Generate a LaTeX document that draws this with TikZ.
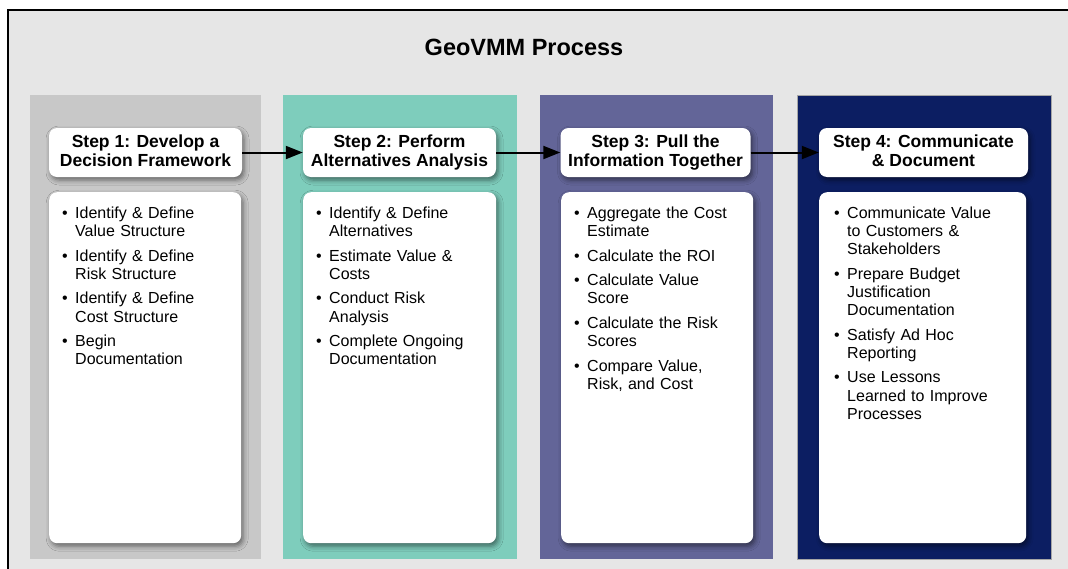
\documentclass[tikz,border=0pt]{standalone}
\usepackage{fontspec}
\setmainfont{Liberation Sans}
\usetikzlibrary{arrows.meta,shadows.blur}

\definecolor{canvas}{HTML}{E6E6E6}
\definecolor{stepone}{HTML}{C8C8C8}
\definecolor{steptwo}{HTML}{7ECDBC}
\definecolor{stepthree}{HTML}{636598}
\definecolor{stepfour}{HTML}{0C1E62}

% one bulleted entry with a hanging indent; \\ breaks a line inside the entry
\newcommand{\bitem}[1]{\par\noindent\hangindent=13pt\hangafter=1%
  \makebox[13pt][l]{\textbullet}{\let\\\newline #1}\par\vspace{6.3pt}}
% two-line step heading with a fixed line depth
\newcommand{\heading}[2]{#1\\#2\vphantom{gy}}

\tikzset{
  panel/.style={rectangle, anchor=north west, inner sep=0pt},
  headbox/.style={rectangle, rounded corners=8pt, fill=white, align=center,
    font=\fontsize{17.5}{18.5}\selectfont\bfseries, inner sep=0pt,
    blur shadow={shadow xshift=2pt, shadow yshift=-3pt, shadow blur radius=5pt, shadow opacity=50}},
  bodybox/.style={rectangle, rounded corners=8pt, fill=white, anchor=north west, inner sep=0pt,
    blur shadow={shadow xshift=2pt, shadow yshift=-3pt, shadow blur radius=5pt, shadow opacity=50}},
  bodytext/.style={anchor=north west, inner sep=0pt, text width=180pt, align=left,
    font=\fontsize{16}{18.2}\selectfont},
  flow/.style={line width=2pt, -{Triangle[length=17pt,width=13pt]}}
}

\begin{document}
\begin{tikzpicture}[x=1pt,y=-1pt]
\useasboundingbox (0,0) rectangle (1068,568);
\fill[white] (0,0) rectangle (1068,568);
\draw[line width=2pt, fill=canvas] (8,10) rectangle (1090,590);

\node[font=\fontsize{23.5}{26}\selectfont\bfseries] (title) at (524,47) {GeoVMM Process};

% coloured columns
\node[panel, fill=stepone,   minimum width=231pt, minimum height=464pt] (p1) at (30,95) {};
\node[panel, fill=steptwo,   minimum width=234pt, minimum height=464pt] (p2) at (283,95) {};
\node[panel, fill=stepthree, minimum width=233pt, minimum height=464pt] (p3) at (540,95) {};
\node[panel, fill=stepfour,  minimum width=254pt, minimum height=464pt, draw=gray!70, line width=0.6pt] (p4) at (797,95) {};

% step headings
\node[headbox, minimum width=193pt, minimum height=49pt] (h1) at (145.5,152.5) {\heading{Step 1: Develop a}{Decision Framework}};
\node[headbox, minimum width=193pt, minimum height=49pt] (h2) at (399.5,152.5) {\heading{Step 2: Perform}{Alternatives Analysis}};
\node[headbox, minimum width=190pt, minimum height=49pt] (h3) at (655.5,152.5) {\heading{Step 3: Pull the}{Information Together}};
\node[headbox, minimum width=209pt, minimum height=49pt] (h4) at (923.5,152.5) {\heading{Step 4: Communicate}{\& Document}};

% activity cards
\node[bodybox, minimum width=192pt, minimum height=351pt] (b1) at (49,192) {};
\node[bodybox, minimum width=193pt, minimum height=351pt] (b2) at (303,192) {};
\node[bodybox, minimum width=192pt, minimum height=351pt] (b3) at (561,192) {};
\node[bodybox, minimum width=207pt, minimum height=351pt] (b4) at (819,192) {};

\node[bodytext] (t1) at (62,200) {%
  \bitem{Identify \& Define\\Value Structure}
  \bitem{Identify \& Define\\Risk Structure}
  \bitem{Identify \& Define\\Cost Structure}
  \bitem{Begin\\Documentation}};
\node[bodytext] (t2) at (316,200) {%
  \bitem{Identify \& Define\\Alternatives}
  \bitem{Estimate Value \&\\Costs}
  \bitem{Conduct Risk\\Analysis}
  \bitem{Complete Ongoing\\Documentation}};
\node[bodytext] (t3) at (574,200) {%
  \bitem{Aggregate the Cost\\Estimate}
  \bitem{Calculate the ROI}
  \bitem{Calculate Value\\Score}
  \bitem{Calculate the Risk\\Scores}
  \bitem{Compare Value,\\Risk, and Cost}};
\node[bodytext] (t4) at (834,200) {%
  \bitem{Communicate Value\\to Customers \&\\Stakeholders}
  \bitem{Prepare Budget\\Justification\\Documentation}
  \bitem{Satisfy Ad Hoc\\Reporting}
  \bitem{Use Lessons\\Learned to Improve\\Processes}};

% process flow
\draw[flow] (h1.east) -- (h2.west);
\draw[flow] (h2.east) -- (h3.west);
\draw[flow] (h3.east) -- (h4.west);
\end{tikzpicture}
\end{document}
